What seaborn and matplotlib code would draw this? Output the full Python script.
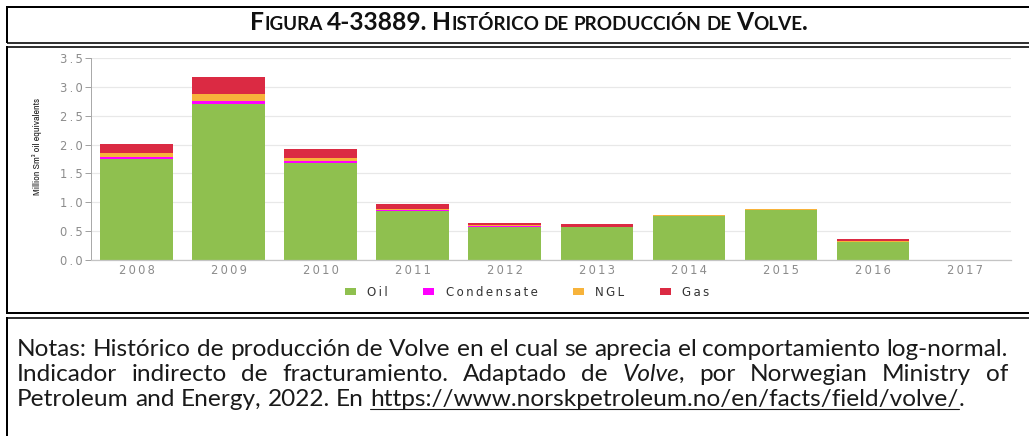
import matplotlib
matplotlib.use("Agg")
import matplotlib.pyplot as plt
from matplotlib.lines import Line2D
from matplotlib.patches import Patch
from matplotlib.ticker import FixedLocator
from matplotlib import font_manager
import seaborn as sns
import pandas as pd

# ---- data (million Sm3 oil equivalents per year) ----
years = ["2008", "2009", "2010", "2011", "2012", "2013", "2014", "2015", "2016", "2017"]
oil = [1.75, 2.70, 1.68, 0.85, 0.58, 0.57, 0.76, 0.875, 0.32, 0.0]
condensate = [0.04, 0.05, 0.04, 0.02, 0.01, 0.0, 0.0, 0.0, 0.0, 0.0]
ngl = [0.07, 0.12, 0.05, 0.02, 0.01, 0.01, 0.015, 0.005, 0.005, 0.0]
gas = [0.15, 0.30, 0.16, 0.08, 0.045, 0.04, 0.005, 0.0, 0.035, 0.0]
series_names = ["Oil", "Condensate", "NGL", "Gas"]
series_colors = ["#8fc04f", "#ff00ff", "#f7b33b", "#db2a43"]
y_ticks = [0.0, 0.5, 1.0, 1.5, 2.0, 2.5, 3.0, 3.5]
y_label = "Million Sm³ oil equivalents"

title_words = [
    [("F", "big"), ("IGURA", "small")],
    [("4-33889.", "big")],
    [("H", "big"), ("ISTÓRICO", "small")],
    [("DE", "small")],
    [("PRODUCCIÓN", "small")],
    [("DE", "small")],
    [("V", "big"), ("OLVE", "small"), (".", "big")],
]
note_line1 = "Notas: Histórico de producción de Volve en el cual se aprecia el comportamiento log-normal."
note_line2 = [[("Indicador", "n")], [("indirecto", "n")], [("de", "n")], [("fracturamiento.", "n")],
              [("Adaptado", "n")], [("de", "n")], [("Volve", "i"), (",", "n")], [("por", "n")],
              [("Norwegian", "n")], [("Ministry", "n")], [("of", "n")]]
note_line3 = [[("Petroleum", "n")], [("and", "n")], [("Energy,", "n")], [("2022.", "n")], [("En", "n")],
              [("https://www.norskpetroleum.no/en/facts/field/volve/", "u"), (".", "n")]]

df = pd.DataFrame({"year": years, "Oil": oil, "Condensate": condensate, "NGL": ngl, "Gas": gas})
tops = df[series_names].cumsum(axis=1)

W, H = 1029, 436
sns.set_style("white")
plt.rcParams["font.family"] = ["DejaVu Sans"]

fig = plt.figure(figsize=(W / 100, H / 100), dpi=100)
fig.patch.set_facecolor("white")
renderer = fig.canvas.get_renderer()


def fx(px):
    return px / W


def fy(py):
    return 1 - py / H


def spaced(s):
    return "\u2009".join(s)


# ---- text helpers ----
def text_width(s, **kw):
    t = fig.text(0, 0, s, **kw)
    w = t.get_window_extent(renderer).width
    t.remove()
    return w


def space_width(**kw):
    return text_width("x x", **kw) - text_width("xx", **kw)


def word_width(runs, styles):
    return sum(text_width(s, **styles[k]) for s, k in runs)


def draw_word(runs, styles, x, y, underline=None):
    for s, k in runs:
        t = fig.text(fx(x), fy(y), s, ha="left", va="baseline", **styles[k])
        w = t.get_window_extent(renderer).width
        if underline and k in underline:
            fig.add_artist(Line2D([fx(x), fx(x + w)], [fy(y + 2.5), fy(y + 2.5)],
                                  transform=fig.transFigure, color="#1a1a1a", lw=0.8))
        x += w
    return x


# narrow face for the axis title, when one is installed
installed = font_manager.fontManager.ttflist
narrow = [f for f in installed if "Narrow" in f.name or "Condensed" in f.name]
stretched = [f for f in installed
             if f.stretch in ("condensed", "semi-condensed", "extra-condensed", "ultra-condensed")]
if narrow:
    ylab_style = dict(family=narrow[0].name)
    ylab_len = 97
elif stretched:
    ylab_style = dict(family=stretched[0].name, stretch=stretched[0].stretch)
    ylab_len = 97
else:
    ylab_style = dict(family="Roboto")
    ylab_len = 106
ylab_size = 7.0 * ylab_len / text_width(y_label, fontsize=7.0, **ylab_style)

# ---- chart ----
ax = fig.add_axes([fx(90.7), fy(260), (1011 - 90.7) / W, (260 - 58) / H])
for name, color in reversed(list(zip(series_names, series_colors))):
    sns.barplot(x=df["year"], y=tops[name], order=years, color=color, saturation=1,
                width=0.79, ax=ax, linewidth=0)

ax.set_xlim(-0.5, len(years) - 0.5)
ax.set_ylim(0, 3.5)
ax.set_xlabel("")
ax.set_yticks(y_ticks)
ax.set_yticklabels([spaced(f"{v:.1f}") for v in y_ticks], color="#8c8c8c", fontsize=8.3)
ax.set_xticks(range(len(years)))
ax.set_xticklabels([spaced(y) for y in years], color="#8c8c8c", fontsize=8.3)
ax.xaxis.set_minor_locator(FixedLocator([i - 0.5 for i in range(len(years) + 1)]))
ax.tick_params(axis="x", which="major", length=0, pad=3.2)
ax.tick_params(axis="x", which="minor", length=2.5, width=0.7, color="#b0b0b0", direction="out")
ax.tick_params(axis="y", length=4.5, width=0.7, color="#a0a0a0", pad=1.2, left=True)
ax.grid(axis="y", color="#e8e8e8", linewidth=0.9)
ax.set_axisbelow(True)
for side in ("top", "right"):
    ax.spines[side].set_visible(False)
ax.spines["left"].set_color("#a8a8a8")
ax.spines["left"].set_linewidth(0.7)
ax.spines["bottom"].set_color("#c4c4c4")
ax.spines["bottom"].set_linewidth(0.9)

ax.set_ylabel(y_label, fontsize=ylab_size, color="#1e1e1e", va="center", **ylab_style)
ax.yaxis.set_label_coords((37 - 90.7) / (1011 - 90.7), (260 - 146) / (260 - 58))

handles = [Patch(facecolor=c, edgecolor="none") for c in series_colors]
fig.legend(handles, [spaced(n) for n in series_names], loc="center",
           bbox_to_anchor=(fx(527), fy(292)), ncol=4, frameon=False, fontsize=8.5,
           labelcolor="#333333", handlelength=0.95, handleheight=0.5, handletextpad=0.95,
           columnspacing=3.0, borderpad=0, borderaxespad=0)

# ---- title in small caps ----
big, small = 13.0, 10.0
tstyle = {"big": dict(family="Lato", weight="bold", fontsize=big, color="#111111"),
          "small": dict(family="Lato", weight="bold", fontsize=small, color="#111111")}
total = sum(word_width(w, tstyle) for w in title_words)
sp = space_width(**tstyle["small"])
total += sp * (len(title_words) - 1)
scale = 558 / total
for k in tstyle:
    tstyle[k]["fontsize"] *= scale
sp = space_width(**tstyle["small"])
total = sum(word_width(w, tstyle) for w in title_words) + sp * (len(title_words) - 1)
x = 529 - total / 2
for w in title_words:
    x = draw_word(w, tstyle, x, 30) + sp

# ---- notes ----
nstyle = {"n": dict(family="Lato", fontsize=15, color="#1a1a1a")}
line1 = [[(wd, "n")] for wd in note_line1.split(" ")]
w1 = sum(word_width(w, nstyle) for w in line1) + space_width(**nstyle["n"]) * (len(line1) - 1)
nsize = 15 * 991 / w1
nstyle = {"n": dict(family="Lato", fontsize=nsize, color="#1a1a1a"),
          "i": dict(family="Lato", style="italic", fontsize=nsize, color="#1a1a1a"),
          "u": dict(family="Lato", fontsize=nsize, color="#1a1a1a")}
x0, x1 = 17, 1008


def draw_line(words, y, justify):
    widths = [word_width(w, nstyle) for w in words]
    if justify:
        gap = (x1 - x0 - sum(widths)) / (len(words) - 1)
    else:
        gap = space_width(**nstyle["n"])
    x = x0
    for w, ww in zip(words, widths):
        draw_word(w, nstyle, x, y, underline=("u",))
        x += ww + gap


draw_line(line1, 356, True)
draw_line(note_line2, 381, True)
draw_line(note_line3, 406, False)


# ---- frame lines ----
def hline(y, lw):
    fig.add_artist(Line2D([fx(7), 1], [fy(y), fy(y)], transform=fig.transFigure,
                          color="black", lw=lw * 0.72, solid_capstyle="butt"))


def vline(x, y0, y1, lw):
    fig.add_artist(Line2D([fx(x), fx(x)], [fy(y0), fy(y1)], transform=fig.transFigure,
                          color="black", lw=lw * 0.72, solid_capstyle="butt"))


hline(7.5, 2)
hline(42.7, 1.6)
hline(47.2, 1.6)
hline(313.3, 2)
hline(317.5, 1.6)
vline(7, 6.5, 43.5, 2)
vline(7, 46.4, 314.3, 2)
vline(7, 316.7, 436, 2)

fig.savefig("out.png", dpi=100, facecolor="white")
